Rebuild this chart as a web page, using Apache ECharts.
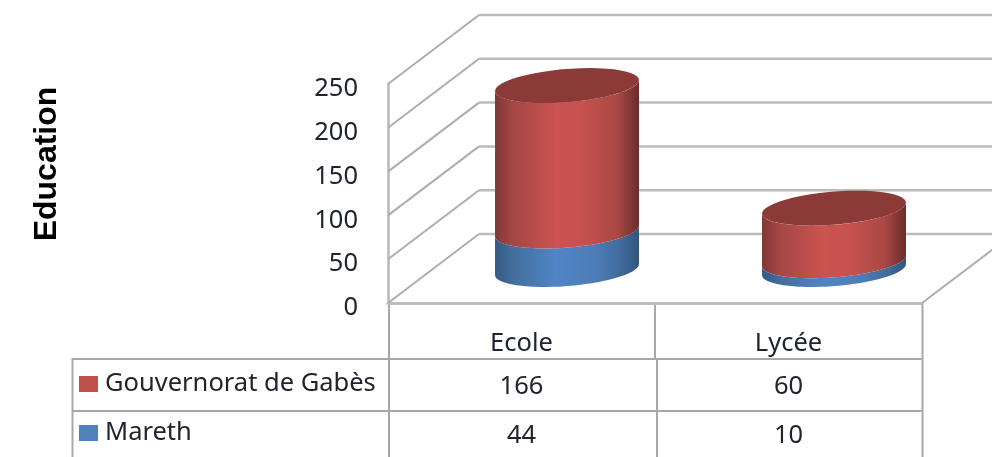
<!DOCTYPE html>
<html>
<head>
<meta charset="utf-8">
<style>html,body{margin:0;padding:0;background:#fff;overflow:hidden}#c{width:992px;height:457px}</style>
<script src="https://cdn.jsdelivr.net/npm/echarts@6/dist/echarts.min.js"></script>
</head>
<body>
<div id="c"></div>
<script>
const categories = ['Ecole', 'Lycée'];
const gabes = [166, 60];
const mareth = [44, 10];
const yTicks = [0, 50, 100, 150, 200, 250];
const axisTitle = 'Education';
const gabesName = 'Gouvernorat de Gabès';
const marethName = 'Mareth';

const DEPTH_X = 91, DEPTH_Y = -69;
const FONT = '"Noto Sans"';
const FONT_SIZE = 25.5;
const TEXT = '#20242e';
const LINE = '#a8a8a8';
const ROW1_Y = 387, ROW2_Y = 436;

const chart = echarts.init(document.getElementById('c'), null, {renderer: 'canvas'});

function ellipsePts(cx, cy, t0, t1) {
  const pts = [], ax = 68.3, bx = 22.7, by = -17.5, n = 48;
  for (let i = 0; i <= n; i++) {
    const t = t0 + (t1 - t0) * i / n;
    pts.push([cx + ax * Math.cos(t) + bx * Math.sin(t), cy + by * Math.sin(t)]);
  }
  return pts;
}
const T0 = Math.atan2(22.7, 68.3);

function grad(stops) {
  return new echarts.graphic.LinearGradient(0, 0, 1, 0,
    stops.map(s => ({offset: s[0], color: s[1]})));
}
const redGrad = [[0,'#7f3836'],[0.12,'#a44644'],[0.42,'#cb5350'],[0.62,'#c5514e'],[0.85,'#a94845'],[1,'#6a2c2b']];
const blueGrad = [[0,'#355a86'],[0.14,'#44709f'],[0.42,'#5084c4'],[0.68,'#4e7eb9'],[0.88,'#3f6a9a'],[1,'#31567c']];

function cylinder(stops, withTop) {
  return function (params, api) {
    const idx = api.value(0);
    const low = api.coord([idx, api.value(1)]);
    const high = api.coord([idx, api.value(2)]);
    const cx = low[0] + DEPTH_X / 2;
    const yLow = low[1] + DEPTH_Y / 2 + 1, yHigh = high[1] + DEPTH_Y / 2 + 1;
    const pts = ellipsePts(cx, yLow, T0, T0 - Math.PI)
      .concat(ellipsePts(cx, yHigh, T0 - Math.PI, T0));
    const children = [{type: 'polygon', shape: {points: pts}, style: {fill: grad(stops)}}];
    if (withTop) {
      children.push({type: 'polygon', shape: {points: ellipsePts(cx, yHigh, 0, Math.PI * 2)},
        style: {fill: '#8c3a38'}});
    }
    return {type: 'group', children};
  };
}

function wall(params, api) {
  const half = api.size([1, 0])[0] / 2;
  const v = api.value(1);
  const p = api.coord([0, v]);
  const x0 = p[0] - half, y = p[1];
  const children = [{
    type: 'polyline',
    shape: {points: [[x0, y], [x0 + DEPTH_X, y + DEPTH_Y]]},
    style: {stroke: '#adadad', lineWidth: 2, fill: null}
  }, {
    type: 'line',
    shape: {x1: x0 + DEPTH_X, y1: y + DEPTH_Y, x2: 992, y2: y + DEPTH_Y},
    style: {stroke: '#bbbbbb', lineWidth: 2.5}
  }];
  if (v === 0) {
    const x1 = api.coord([1, 0])[0] + half;
    children.push({type: 'line', shape: {x1, y1: y, x2: x1 + DEPTH_X, y2: y + DEPTH_Y},
      style: {stroke: '#adadad', lineWidth: 2}});
  }
  return {type: 'group', children};
}

function tableCell(y) {
  return function (params, api) {
    return {type: 'text', style: {
      text: String(api.value(1)), x: api.coord([api.value(0), 0])[0], y,
      align: 'center', verticalAlign: 'middle',
      font: FONT_SIZE + 'px ' + FONT, fill: TEXT
    }};
  };
}

const vLine = (x, y1, y2) => ({type: 'line', silent: true,
  shape: {x1: x, y1, x2: x, y2}, style: {stroke: LINE, lineWidth: 2}});
const hLine = (y, x1, x2) => ({type: 'line', silent: true,
  shape: {x1, y1: y, x2, y2: y}, style: {stroke: LINE, lineWidth: 2}});

const legendBase = {
  orient: 'vertical', left: 74, itemWidth: 19, itemHeight: 16, icon: 'rect',
  selectedMode: false,
  textStyle: {fontFamily: FONT, fontSize: FONT_SIZE, color: TEXT, lineHeight: 30, padding: [8, 0, 0, 2]}
};

chart.setOption({
  animation: false,
  backgroundColor: '#ffffff',
  grid: {left: 388, right: 70, top: 84, height: 219, containLabel: false},
  legend: [
    Object.assign({}, legendBase, {data: [gabesName], top: 360}),
    Object.assign({}, legendBase, {data: [marethName], top: 409})
  ],
  xAxis: {
    type: 'category', data: categories, boundaryGap: true,
    axisTick: {show: false},
    axisLine: {lineStyle: {color: '#bcbcbc', width: 3}},
    axisLabel: {margin: 28, fontFamily: FONT, fontSize: FONT_SIZE, color: TEXT},
    splitLine: {show: false}
  },
  yAxis: {
    type: 'value', min: 0, max: 250, interval: 50,
    axisLine: {show: true, lineStyle: {color: '#b9b9b9', width: 2.5}},
    axisTick: {show: false},
    splitLine: {show: false},
    axisLabel: {margin: 30, fontFamily: FONT, fontSize: FONT_SIZE, color: TEXT, verticalAlign: 'top', lineHeight: 10}
  },
  series: [
    {type: 'custom', name: 'walls', silent: true, z: 1, renderItem: wall,
     encode: {x: 0, y: 1}, data: yTicks.map(t => [0, t])},
    {type: 'custom', name: marethName, silent: true, z: 2, itemStyle: {color: '#4f81bd'},
     renderItem: cylinder(blueGrad, false), encode: {x: 0, y: [1, 2]},
     data: mareth.map((v, i) => [i, 0, v])},
    {type: 'custom', name: gabesName, silent: true, z: 3, itemStyle: {color: '#c0504d'},
     renderItem: cylinder(redGrad, true), encode: {x: 0, y: [1, 2]},
     data: gabes.map((v, i) => [i, mareth[i], mareth[i] + v])},
    {type: 'custom', name: 'rowGabes', silent: true, z: 4, renderItem: tableCell(ROW1_Y),
     encode: {x: 0, y: 1}, data: gabes.map((v, i) => [i, v])},
    {type: 'custom', name: 'rowMareth', silent: true, z: 4, renderItem: tableCell(ROW2_Y),
     encode: {x: 0, y: 1}, data: mareth.map((v, i) => [i, v])}
  ],
  graphic: [
    {type: 'text', rotation: Math.PI / 2, x: 47, y: 164, silent: true,
     style: {text: axisTitle, font: 'bold 32px "Liberation Sans"', fill: '#000',
       align: 'center', verticalAlign: 'middle'}},
    hLine(359, 72, 923), hLine(411, 72, 923),
    vLine(72.5, 358, 457), vLine(389, 303, 457),
    vLine(655, 303, 359), vLine(657, 359, 457), vLine(922.5, 303, 457)
  ]
});
</script>
</body>
</html>
